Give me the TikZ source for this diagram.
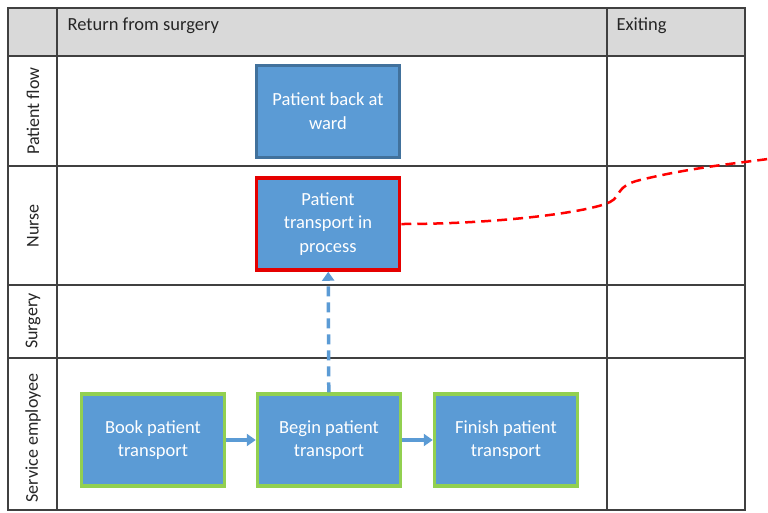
\documentclass[tikz,border=0pt]{standalone}
\usepackage{fontspec}
\setmainfont{Carlito}
\usetikzlibrary{arrows.meta}
\definecolor{boxblue}{HTML}{5B9BD5}
\definecolor{boxedge}{HTML}{41719C}
\definecolor{greenedge}{HTML}{92D050}
\definecolor{hdr}{HTML}{D9D9D9}
\definecolor{gridc}{HTML}{404040}
\tikzset{
  proc/.style={draw, fill=boxblue, text=white, minimum width=143pt, minimum height=92pt,
    align=center, font=\fontsize{18.5}{23.5}\selectfont, inner sep=2pt},
  svc/.style={proc, draw=greenedge, line width=3.5pt},
  nurse/.style={proc, draw=red!90!black, line width=3.5pt},
  ward/.style={proc, draw=boxedge, line width=3pt},
  lane/.style={rotate=90, font=\fontsize{18}{20}\selectfont, text=black!85},
  head/.style={anchor=west, font=\fontsize{18.5}{20}\selectfont, text=black!85},
  grid/.style={draw=gridc, line width=1.5pt},
  flow/.style={draw=boxblue, line width=3.5pt, -{Triangle[length=9pt,width=12pt]}},
  trig/.style={draw=red, line width=2.5pt, dash pattern=on 10pt off 6pt}
}
\begin{document}
\begin{tikzpicture}[x=1pt,y=-1pt]
\useasboundingbox (0,0) rectangle (768,512);
\fill[white] (0,0) rectangle (768,512);
% header
\fill[hdr] (8,8) rectangle (745,56);
% grid
\draw[grid] (8,8) rectangle (745,510);
\draw[grid] (8,56) -- (745,56);
\draw[grid] (8,166) -- (745,166);
\draw[grid] (8,285) -- (745,285);
\draw[grid] (8,358) -- (745,358);
\draw[grid] (57,8) -- (57,510);
\draw[grid] (607,8) -- (607,510);
% headers
\node[head] (h1) at (64,26) {Return from surgery};
\node[head] (h2) at (613,26) {Exiting};
% lanes
\node[lane] (l1) at (33,111) {Patient flow};
\node[lane] (l2) at (33,226) {Nurse};
\node[lane] (l3) at (33,321) {Surgery};
\node[lane] (l4) at (33,438) {Service employee};
% boxes
\node[ward] (ward) at (328,111) {Patient back at\\ward};
\node[nurse] (nurse) at (328,224) {Patient\\transport in\\process};
\node[svc] (book) at (153,440) {Book patient\\transport};
\node[svc] (begin) at (329,440) {Begin patient\\transport};
\node[svc] (finish) at (506,440) {Finish patient\\transport};
% connectors
\draw[flow] (book) -- (begin);
\draw[flow] (begin) -- (finish);
\draw[flow, dash pattern=on 10pt off 6pt] (begin) -- (nurse);
\coordinate (e) at (768,159);
\draw[trig] (nurse.east) .. controls (500,224) and (590,212) .. (610,202)
  .. controls (622,196) and (615,186) .. (640,180)
  .. controls (690,168) and (730,164) .. (e);
\end{tikzpicture}
\end{document}
